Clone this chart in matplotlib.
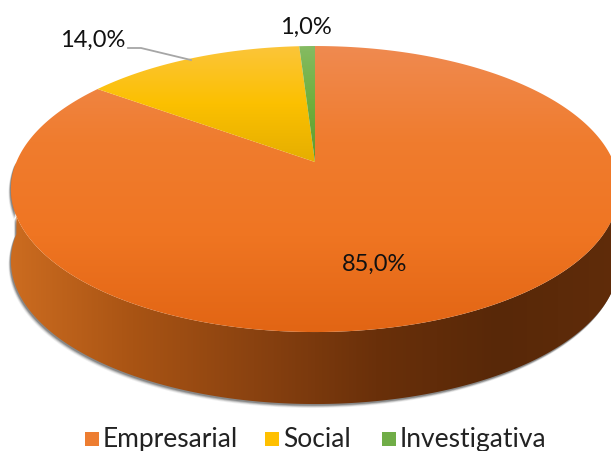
import numpy as np
import matplotlib
matplotlib.use('Agg')
import matplotlib.pyplot as plt
from matplotlib.patches import Polygon, Rectangle
from matplotlib.colors import LinearSegmentedColormap

categories = ['Empresarial', 'Social', 'Investigativa']
values = [85.0, 14.0, 1.0]
labels = ['85,0%', '14,0%', '1,0%']
colors = ['#ED7D31', '#FFC000', '#70AD47']

plt.rcParams['font.family'] = ['Lato', 'DejaVu Sans']

fig = plt.figure(figsize=(6.11, 4.52), dpi=100)
ax = fig.add_axes([0, 0, 1, 1])
ax.set_xlim(0, 611)
ax.set_ylim(452, 0)
ax.axis('off')

# pie geometry in pixels, with a bit of perspective
cx, cy = 315, 163
rx = 298.6
b = 0.189
a = 137.9
depth = 72


def project(ang):
    # ang measured clockwise from the top
    u = np.sin(ang)
    v = np.cos(ang)
    w = 1 + b * v
    return cx + rx * u / w, cy - a * v / w


def gradient(clip, cols, extent, horizontal=False, zorder=1):
    cmap = LinearSegmentedColormap.from_list('g', cols)
    grad = np.linspace(0, 1, 256)
    grad = grad.reshape(1, -1) if horizontal else grad.reshape(-1, 1)
    im = ax.imshow(grad, cmap=cmap, extent=extent, aspect='auto', zorder=zorder)
    im.set_clip_path(clip)


# side wall
th = np.linspace(np.pi / 2, 3 * np.pi / 2, 200)
x, y = project(th)
side = np.concatenate([np.c_[x, y], np.c_[x[::-1], y[::-1] + depth]])

# blurred shadow under the wall
for off, al in zip([5, 4, 3, 2], [0.08, 0.15, 0.25, 0.35]):
    ax.add_patch(Polygon(side + [-off * 0.5, off * 0.8], closed=True, fc='#404040',
                         ec='none', alpha=al, zorder=0))

side_patch = Polygon(side, closed=True, fc='none', ec='none')
ax.add_patch(side_patch)
gradient(side_patch, ['#CC6C20', '#A95414', '#8A4210', '#6A300A', '#582808', '#602C0A'],
         (10, 620, 420, 150), horizontal=True)

# top slices
start = 0.0
total = sum(values)
for val, col in zip(values, colors):
    end = start + 2 * np.pi * val / total
    th = np.linspace(start, end, 300)
    x, y = project(th)
    pts = np.vstack([[cx, cy], np.c_[x, y]])
    wedge = Polygon(pts, closed=True, fc='none', ec='none')
    ax.add_patch(wedge)
    if col == '#ED7D31':
        cols = ['#EF8A50', '#F07C2E', '#EF7522', '#E26514']
    elif col == '#FFC000':
        cols = ['#FCC53A', '#FBC000', '#E5AE00']
    else:
        cols = ['#85BB62', '#6FAF3C', '#5F9A30']
    bot = 333 if col == '#ED7D31' else 163
    gradient(wedge, cols, (0, 611, bot, 47), zorder=2)
    start = end

ax.text(375, 264, labels[0], fontsize=17, ha='center', va='center', color='#111111', zorder=5)
ax.text(93, 40, labels[1], fontsize=17, ha='center', va='center', color='#111111', zorder=5)
ax.text(306, 27, labels[2], fontsize=17, ha='center', va='center', color='#111111', zorder=5)
ax.plot([128, 141, 191], [49, 49, 61], color='#A6A6A6', lw=1.3, zorder=5)

# legend
leg_x = [85, 265, 382]
for name, col, lx in zip(categories, colors, leg_x):
    ax.add_patch(Rectangle((lx, 433), 14, 14, fc=col, ec='none', zorder=5))
    ax.text(lx + 18, 440, name, fontsize=19, ha='left', va='center', color='#222222', zorder=5)

ax.set_xlim(0, 611)
ax.set_ylim(452, 0)
fig.savefig('out.png', dpi=100)
